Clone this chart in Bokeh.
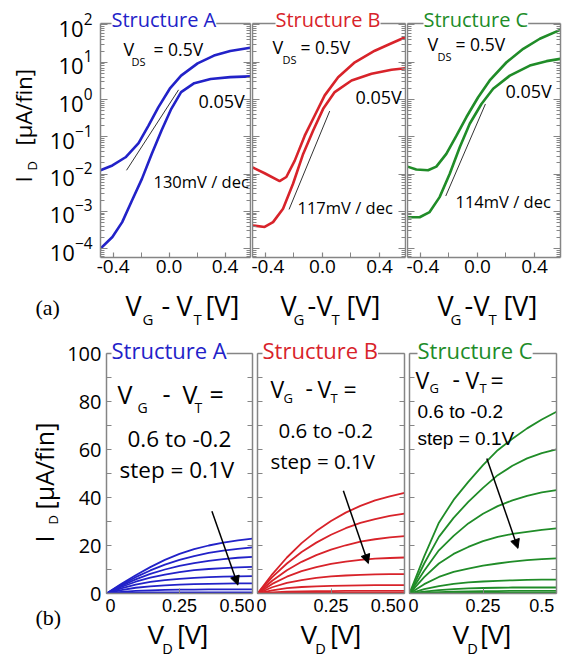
import math
from bokeh.plotting import figure
from bokeh.models import (Range1d, FixedTicker, LogAxis, LinearAxis, Title,
                          Label, Arrow, NormalHead, CustomJSTickFormatter, LogTickFormatter)
from bokeh.layouts import row, column
from bokeh.embed import file_html
from bokeh.resources import INLINE

# ---------------- data ----------------
# (a) transfer curves: I_D [uA/fin] vs V_G - V_T [V]; "hi" = V_DS 0.5 V, "lo" = 0.05 V
a_hi_x = [-0.49, -0.405, -0.311, -0.218, -0.147, -0.077, 0.005, 0.086, 0.204, 0.321, 0.437, 0.58]
a_hi_i = [0.0126, 0.0170, 0.0282, 0.0676, 0.200, 0.617, 1.95, 4.37, 9.33, 15.1, 20.0, 24.5]
a_lo_x = [-0.49, -0.405, -0.335, -0.265, -0.194, -0.124, -0.054, 0.016, 0.086, 0.180, 0.297, 0.437, 0.58]
a_lo_i = [1.0e-4, 2.04e-4, 5.13e-4, 1.95e-3, 7.41e-3, 0.0347, 0.148, 0.562, 1.58, 2.75, 3.55, 3.98, 4.17]
b_hi_x = [-0.49, -0.405, -0.30, -0.253, -0.194, -0.124, -0.054, 0.016, 0.110, 0.227, 0.367, 0.484, 0.58]
b_hi_i = [0.0151, 0.0105, 0.00646, 0.00832, 0.0229, 0.107, 0.372, 1.29, 3.98, 10.0, 20.4, 32.4, 46.8]
b_lo_x = [-0.49, -0.405, -0.346, -0.276, -0.206, -0.135, -0.065, 0.005, 0.086, 0.204, 0.344, 0.484, 0.58]
b_lo_i = [4.17e-4, 3.80e-4, 5.13e-4, 1.17e-3, 5.50e-3, 0.0347, 0.148, 0.562, 1.58, 3.24, 4.90, 6.31, 6.92]
c_hi_x = [-0.49, -0.428, -0.346, -0.288, -0.218, -0.147, -0.077, 0.005, 0.086, 0.204, 0.321, 0.437, 0.58]
c_hi_i = [0.0158, 0.0132, 0.0126, 0.0158, 0.0347, 0.107, 0.339, 1.15, 3.24, 10.0, 22.9, 42.7, 74.1]
c_lo_x = [-0.49, -0.405, -0.335, -0.265, -0.194, -0.124, -0.054, 0.028, 0.110, 0.227, 0.367, 0.484, 0.58]
c_lo_i = [6.92e-4, 6.92e-4, 9.55e-4, 2.40e-3, 0.0102, 0.0525, 0.224, 0.759, 1.95, 4.37, 8.13, 10.7, 12.3]
# subthreshold-slope guide lines
a_ss_x = [-0.304, 0.068]
a_ss_i = [0.0126, 1.82]
b_ss_x = [-0.234, 0.051]
b_ss_i = [1.12e-3, 0.490]
c_ss_x = [-0.222, 0.056]
c_ss_i = [2.57e-3, 0.759]
ss_labels = ["130mV / dec", "117mV / dec", "114mV / dec"]
structures = ["Structure A", "Structure B", "Structure C"]

# (b) output curves: I_D [uA/fin] vs V_D [V], V_G - V_T = 0.6 ... -0.2 V
vd = [0, 0.05, 0.1, 0.15, 0.2, 0.25, 0.3, 0.35, 0.4, 0.45, 0.5]
vgt_steps = [0.6, 0.5, 0.4, 0.3, 0.2, 0.1, 0.0, -0.1, -0.2]
a_out = [
    [0, 4.0, 7.6, 11.0, 14.0, 16.5, 18.5, 20.0, 21.2, 22.1, 22.9],
    [0, 3.6, 6.8, 9.6, 12.0, 14.0, 15.6, 16.9, 17.9, 18.6, 19.2],
    [0, 3.2, 5.9, 8.2, 10.0, 11.5, 12.7, 13.6, 14.3, 14.9, 15.3],
    [0, 2.7, 4.9, 6.6, 7.9, 8.9, 9.7, 10.2, 10.6, 10.9, 11.1],
    [0, 2.1, 3.7, 4.8, 5.6, 6.1, 6.5, 6.8, 7.0, 7.1, 7.2],
    [0, 1.4, 2.4, 3.0, 3.4, 3.7, 3.9, 4.0, 4.1, 4.2, 4.2],
    [0, 0.7, 1.1, 1.3, 1.5, 1.6, 1.6, 1.7, 1.7, 1.7, 1.7],
    [0, 0.25, 0.4, 0.45, 0.5, 0.5, 0.5, 0.5, 0.5, 0.5, 0.5],
    [0, 0.05, 0.08, 0.1, 0.1, 0.1, 0.1, 0.1, 0.1, 0.1, 0.1],
]
b_out = [
    [0, 8.0, 15.0, 21.0, 26.0, 30.2, 33.7, 36.5, 38.8, 40.5, 41.9],
    [0, 6.8, 12.5, 17.3, 21.2, 24.5, 27.2, 29.4, 31.0, 32.3, 33.3],
    [0, 5.3, 9.7, 13.2, 16.0, 18.3, 20.1, 21.6, 22.6, 23.4, 23.9],
    [0, 4.0, 7.0, 9.3, 11.0, 12.3, 13.3, 14.0, 14.5, 14.8, 15.0],
    [0, 2.6, 4.4, 5.6, 6.5, 7.1, 7.5, 7.8, 8.0, 8.1, 8.1],
    [0, 1.3, 2.2, 2.7, 3.0, 3.2, 3.3, 3.4, 3.5, 3.5, 3.5],
    [0, 0.5, 0.8, 0.9, 1.0, 1.0, 1.1, 1.1, 1.1, 1.1, 1.1],
    [0, 0.15, 0.25, 0.3, 0.3, 0.3, 0.3, 0.3, 0.3, 0.3, 0.3],
    [0, 0.03, 0.05, 0.05, 0.05, 0.05, 0.05, 0.05, 0.05, 0.05, 0.05],
]
c_out = [
    [0, 15.5, 29.5, 39.0, 46.5, 53.5, 59.7, 64.5, 68.8, 72.5, 75.7],
    [0, 12.5, 23.6, 31.5, 38.2, 44.0, 49.3, 53.2, 56.3, 58.5, 60.1],
    [0, 9.5, 18.0, 24.0, 29.2, 33.2, 36.4, 38.8, 40.7, 42.1, 43.1],
    [0, 6.8, 12.5, 16.5, 19.4, 21.8, 23.6, 24.8, 25.7, 26.5, 27.1],
    [0, 3.9, 6.9, 9.0, 10.4, 11.6, 12.5, 13.3, 13.9, 14.3, 14.6],
    [0, 1.8, 3.1, 4.0, 4.6, 5.0, 5.3, 5.5, 5.7, 5.8, 5.8],
    [0, 0.8, 1.4, 1.8, 2.1, 2.3, 2.4, 2.5, 2.5, 2.5, 2.5],
    [0, 0.35, 0.6, 0.8, 0.9, 1.0, 1.0, 1.1, 1.1, 1.1, 1.1],
    [0, 0.1, 0.2, 0.25, 0.3, 0.3, 0.3, 0.3, 0.3, 0.3, 0.3],
]
# arrows (V_D, I_D) start -> end, direction of decreasing V_G - V_T
a_arrow = [0.361, 34.3, 0.450, 3.5]
b_arrow = [0.292, 42.8, 0.377, 12.5]
c_arrow = [0.263, 56.3, 0.369, 18.8]

top_y_ticks = [1e-4, 1e-3, 1e-2, 1e-1, 1e0, 1e1, 1e2]
top_x_ticks = [-0.4, 0.0, 0.4]
top_x_minor = [-0.2, 0.2]
bot_y_ticks = [0, 20, 40, 60, 80, 100]
bot_y_minor = [10, 30, 50, 70, 90]
bot_x_marks = [0.25]
bot_x_label_pos = [[0.0136, 0.25, 0.449], [0.0136, 0.25, 0.445], [0.0136, 0.25, 0.45]]
bot_x_label_txt = [["0", "0.25", "0.50"], ["0", "0.25", "0.50"], ["0", "0.25", "0.5"]]

# ---------------- style ----------------
FONT = "Open Sans"
SANS2 = "Liberation Sans"
GRAY = "#858585"
BLUE, RED, GREEN = "#2222c8", "#d8232a", "#208c28"
MID = {"Open Sans": 0.388, "Liberation Sans": 0.347, "Liberation Serif": 0.338}
top_minor = [k * 10.0 ** n for n in range(-5, 3) for k in range(2, 10)
             if 10 ** -4.25 < k * 10.0 ** n < 10 ** 2.04]


def base_fig(w, h, borders, xr, yr, log_y=False):
    l, r, t, b = borders
    p = figure(width=w, height=h, x_range=xr, y_range=yr,
               y_axis_type="log" if log_y else "linear",
               x_axis_location=None, y_axis_location=None,
               output_backend="svg", toolbar_location=None,
               min_border_left=l, min_border_right=r, min_border_top=t, min_border_bottom=b,
               background_fill_color="white", border_fill_color="white",
               outline_line_color=None)
    p.grid.visible = False
    return p


def strip(w, h):
    return base_fig(w, h, (0, 0, 0, 0), Range1d(0, 1), Range1d(0, 1))


def axis(p, side, log, ticks, minor, tin, minin, labels=False, fmt=None, size="20px",
         standoff=6, font=FONT):
    cls = LogAxis if log else LinearAxis
    ax = cls(ticker=FixedTicker(ticks=ticks, minor_ticks=minor),
             axis_line_color=GRAY, axis_line_width=1.5,
             major_tick_line_color=GRAY, major_tick_line_width=1.2, major_tick_in=tin, major_tick_out=0,
             minor_tick_line_color=GRAY, minor_tick_line_width=1.0, minor_tick_in=minin, minor_tick_out=0)
    if labels:
        ax.major_label_text_font = font
        ax.major_label_text_font_size = size
        ax.major_label_standoff = standoff
        ax.major_label_text_color = "black"
        if fmt is not None:
            ax.formatter = fmt
    else:
        ax.major_label_text_font_size = "0px"
        ax.major_label_text_color = None
        ax.major_label_standoff = 0
    p.add_layout(ax, side)


def txt(p, g, ix, iy, text, size, color="black", font=FONT, rot=False):
    """place text whose baseline starts at page pixel (ix, iy)"""
    fl, ft, fr, fb = g
    k = MID[font] * size
    if rot:
        ax_, ay_ = ix - k, iy
    else:
        ax_, ay_ = ix, iy - k
    p.add_layout(Label(x=ax_ - fl, y=fb - ay_, x_units="screen", y_units="screen", text=text,
                       text_font=font, text_font_size=f"{size}px", text_color=color,
                       text_align="left", text_baseline="alphabetic",
                       angle=math.pi / 2 if rot else 0.0))


def title(p, text, color, size, offset, standoff):
    p.add_layout(Title(text=text, align="left", offset=offset, standoff=standoff,
                       vertical_align="bottom", text_font=FONT, text_font_size=f"{size}px",
                       text_font_style="normal", text_color=color,
                       background_fill_color="white"), "above")


# ---------------- geometry (page pixel coordinates) ----------------
TOP_H = 286
GT = [(97, 23, 250, 257), (252, 23, 405, 257), (407, 23, 560, 257)]
top_specs = [(205, (51, 1, 23, 29)), (155, (1, 1, 23, 29)), (160, (1, 6, 23, 29))]
BOT_Y0 = 334
GB = [(105, 353, 252, 593), (257, 353, 404, 593), (409, 353, 556, 593)]
bot_specs = [(190, (41, 2, 19, 26)), (152, (3, 2, 19, 26)), (160, (3, 10, 19, 26))]
BOT_H = 285

colors = [BLUE, RED, GREEN]
hi = [(a_hi_x, a_hi_i), (b_hi_x, b_hi_i), (c_hi_x, c_hi_i)]
lo = [(a_lo_x, a_lo_i), (b_lo_x, b_lo_i), (c_lo_x, c_lo_i)]
ss = [(a_ss_x, a_ss_i), (b_ss_x, b_ss_i), (c_ss_x, c_ss_i)]
outs = [a_out, b_out, c_out]
arrows = [a_arrow, b_arrow, c_arrow]

title_top_off = [11, 23, 16]
title_bot_off = [5, 5, 8]
vds_pos = [((120, 55), (128, 65), (150, 55)), ((272, 53), (282, 63), (300, 53)), ((427, 50), (437, 60), (455, 50))]
v005_pos = [(195, 107), (355, 103), (505, 97)]
ss_pos = [(150, 187), (297, 213), (455, 207)]
xlab_top = [
    [(125, 315), (142, 324), (161, 315), (176, 315), (193, 324), (205, 315)],
    [(280, 315), (293, 324), (307, 315), (316, 315), (331, 324), (346, 315)],
    [(437, 315), (450, 324), (464, 315), (473, 315), (488, 324), (503, 315)],
]
xlab_bot = [[(147, 643), (162, 653), (177, 643)],
            [(300, 643), (315, 653), (330, 643)],
            [(452, 643), (467, 653), (480, 643)]]

# ---- row (a) ----
tops = []
for k in range(3):
    w, bd = top_specs[k]
    g = GT[k]
    p = base_fig(w, TOP_H, bd, Range1d(-0.49, 0.582), Range1d(10 ** -4.24, 10 ** 2.04), log_y=True)
    first = (k == 0)
    axis(p, "left", True, top_y_ticks, top_minor, 7, 4, labels=first,
         fmt=LogTickFormatter(), size="22px", standoff=8)
    axis(p, "right", True, top_y_ticks, top_minor, 7, 4)
    axis(p, "below", False, top_x_ticks, top_x_minor, 5, 5, labels=True,
         fmt=CustomJSTickFormatter(code="return tick.toFixed(1);"), size="19px", standoff=2)
    axis(p, "above", False, [], [], 0, 0)
    hx, hiv = hi[k]
    lx, liv = lo[k]
    p.line(hx, hiv, line_color=colors[k], line_width=2.6)
    p.line(lx, liv, line_color=colors[k], line_width=2.6)
    sx, si = ss[k]
    p.line(sx, si, line_color="#333333", line_width=1.0)
    title(p, structures[k], colors[k], 20, title_top_off[k], -18)
    (v1, v2, v3) = vds_pos[k]
    txt(p, g, v1[0], v1[1], "V", 18)
    txt(p, g, v2[0], v2[1], "DS", 11)
    txt(p, g, v3[0], v3[1], "= 0.5V", 17.5)
    txt(p, g, v005_pos[k][0], v005_pos[k][1], "0.05V", 18)
    txt(p, g, ss_pos[k][0], ss_pos[k][1], ss_labels[k], 16.5)
    tops.append(p)

sy1 = strip(46, TOP_H)
g_sy1 = (0, 0, 46, TOP_H)
txt(sy1, g_sy1, 31, 211, "I", 22, rot=True)
txt(sy1, g_sy1, 37, 199, "D", 13, rot=True)
txt(sy1, g_sy1, 31, 174, "[\u00b5A/fin]", 22, rot=True)

xt1 = strip(566, BOT_Y0 - TOP_H)
g_xt1 = (0, TOP_H, 566, BOT_Y0)
txt(xt1, g_xt1, 35, 314, "(a)", 22, font="Liberation Serif")
for k in range(3):
    for (ix, iy), s, sz in zip(xlab_top[k], ["V", "G", "-", "V", "T", "[V]"], [27, 15, 27, 27, 15, 27]):
        txt(xt1, g_xt1, ix, iy, s, sz)

# ---- row (b) ----
bots = []
for k in range(3):
    w, bd = bot_specs[k]
    g = GB[k]
    p = base_fig(w, BOT_H, bd, Range1d(0, 0.5), Range1d(0, 100))
    first = (k == 0)
    axis(p, "left", False, bot_y_ticks, bot_y_minor, 5, 5, labels=first,
         fmt=CustomJSTickFormatter(code="return tick.toFixed(0);"), size="20px", standoff=5)
    axis(p, "right", False, bot_y_ticks, bot_y_minor, 5, 5)
    fmt = CustomJSTickFormatter(args=dict(labels=bot_x_label_txt[k]), code="return labels[index];")
    axis(p, "below", False, bot_x_label_pos[k], bot_x_marks, 0, 5, labels=True, fmt=fmt,
         size="18px", standoff=5, font=SANS2)
    axis(p, "above", False, [], [], 0, 0)
    for curve in outs[k]:
        p.line(vd, curve, line_color=colors[k], line_width=1.8)
    x0, y0, x1, y1 = arrows[k]
    p.add_layout(Arrow(end=NormalHead(size=9, fill_color="black", line_color="black"),
                       x_start=x0, y_start=y0, x_end=x1, y_end=y1,
                       line_color="black", line_width=1.5))
    title(p, structures[k], colors[k], 22, title_bot_off[k], -23)
    bots.append(p)

ga, gb, gc = GB
pa, pb, pc = bots
for (ix, iy), s, sz in zip([(116, 403), (136, 412), (161, 403), (181, 403), (193, 412), (208, 403)],
                           ["V", "G", "-", "V", "T", "="], [25, 14, 25, 25, 14, 25]):
    txt(pa, ga, ix, iy, s, sz)
txt(pa, ga, 126, 447, "0.6 to -0.2", 22.5)
txt(pa, ga, 118, 478, "step = 0.1V", 22.5)
for (ix, iy), s, sz in zip([(270, 397), (283, 403), (305, 397), (317, 397), (330, 403), (343, 397)],
                           ["V", "G", "-", "V", "T", "="], [23, 13, 23, 23, 13, 23]):
    txt(pb, gb, ix, iy, s, sz)
txt(pb, gb, 278, 437, "0.6 to -0.2", 20.5)
txt(pb, gb, 270, 468, "step = 0.1V", 20.5)
for (ix, iy), s, sz in zip([(415, 388), (429, 393), (452, 388), (465, 388), (479, 393), (490, 388)],
                           ["V", "G", "-", "V", "T", "="], [23, 13, 23, 23, 13, 23]):
    txt(pc, gc, ix, iy, s, sz)
txt(pc, gc, 417, 418, "0.6 to -0.2", 19, font=SANS2)
txt(pc, gc, 417, 445, "step = 0.1V", 19, font=SANS2)

sy2 = strip(64, 660 - BOT_Y0)
g_sy2 = (0, BOT_Y0, 64, 660)
txt(sy2, g_sy2, 53, 542, "I", 25, rot=True)
txt(sy2, g_sy2, 58, 524, "D", 13, rot=True)
txt(sy2, g_sy2, 53, 509, "[\u00b5A/fin]", 25, rot=True)
txt(sy2, g_sy2, 35, 624, "(b)", 22, font="Liberation Serif")

xt2 = strip(502, 660 - BOT_Y0 - BOT_H)
g_xt2 = (64, BOT_Y0 + BOT_H, 566, 660)
for k in range(3):
    for (ix, iy), s, sz in zip(xlab_bot[k], ["V", "D", "[V]"], [25, 14, 25]):
        txt(xt2, g_xt2, ix, iy, s, sz, font=SANS2)

layout = column(row(sy1, *tops), xt1, row(sy2, column(row(*bots), xt2)))
open("out.html", "w").write(file_html(layout, INLINE))
